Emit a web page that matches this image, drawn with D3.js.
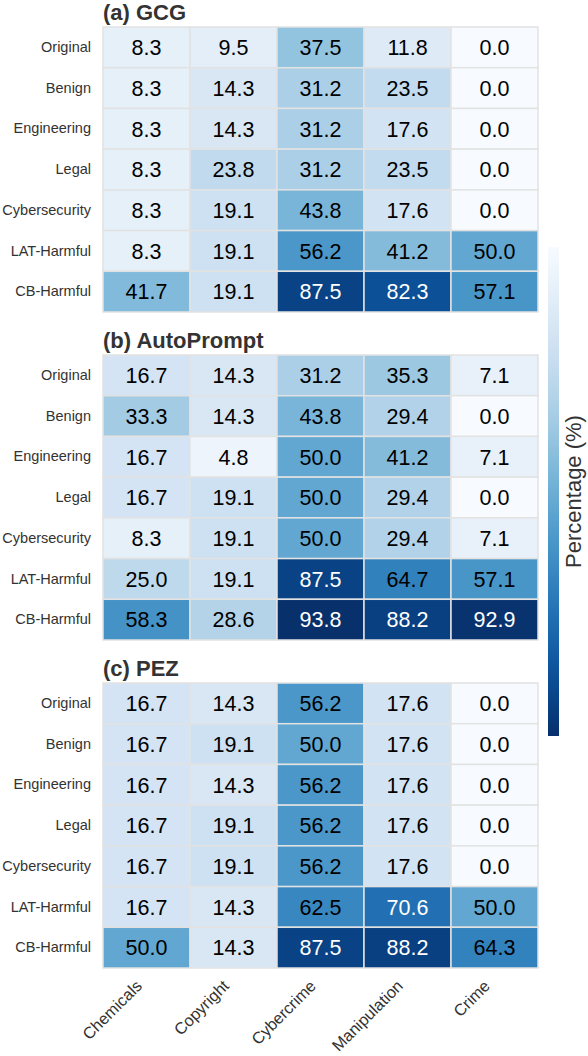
<!DOCTYPE html>
<html>
<head>
<meta charset="utf-8">
<script src="https://cdn.jsdelivr.net/npm/d3@7"></script>
<style>
  body { margin: 0; background: #fff; }
  text { font-family: "Liberation Sans", Arial, sans-serif; }
</style>
</head>
<body>
<div id="chart"></div>
<script>
var width = 588;
var height = 1056;

// data
var categories = ["Chemicals", "Copyright", "Cybercrime", "Manipulation", "Crime"];
var prompts = ["Original", "Benign", "Engineering", "Legal", "Cybersecurity", "LAT-Harmful", "CB-Harmful"];
var panelTitles = ["(a) GCG", "(b) AutoPrompt", "(c) PEZ"];

var gcg = [
  [8.3, 9.5, 37.5, 11.8, 0.0],
  [8.3, 14.3, 31.2, 23.5, 0.0],
  [8.3, 14.3, 31.2, 17.6, 0.0],
  [8.3, 23.8, 31.2, 23.5, 0.0],
  [8.3, 19.1, 43.8, 17.6, 0.0],
  [8.3, 19.1, 56.2, 41.2, 50.0],
  [41.7, 19.1, 87.5, 82.3, 57.1]
];
var autoprompt = [
  [16.7, 14.3, 31.2, 35.3, 7.1],
  [33.3, 14.3, 43.8, 29.4, 0.0],
  [16.7, 4.8, 50.0, 41.2, 7.1],
  [16.7, 19.1, 50.0, 29.4, 0.0],
  [8.3, 19.1, 50.0, 29.4, 7.1],
  [25.0, 19.1, 87.5, 64.7, 57.1],
  [58.3, 28.6, 93.8, 88.2, 92.9]
];
var pez = [
  [16.7, 14.3, 56.2, 17.6, 0.0],
  [16.7, 19.1, 50.0, 17.6, 0.0],
  [16.7, 14.3, 56.2, 17.6, 0.0],
  [16.7, 19.1, 56.2, 17.6, 0.0],
  [16.7, 19.1, 56.2, 17.6, 0.0],
  [16.7, 14.3, 62.5, 70.6, 50.0],
  [50.0, 14.3, 87.5, 88.2, 64.3]
];
var panels = [gcg, autoprompt, pez];

var svg = d3.select("#chart")
    .append("svg")
    .attr("width", width)
    .attr("height", height);

var vmax = d3.max(panels, p => d3.max(p, r => d3.max(r)));
var color = d3.scaleSequential(d3.interpolateBlues).domain([0, vmax]);

var left = 103, right = 538;
var panelTop = [27, 355, 683];
var panelH = 285;

var x = d3.scaleBand()
    .domain(categories)
    .range([left, right]);

panels.forEach(function(data, p) {
  var y = d3.scaleBand()
      .domain(prompts)
      .range([panelTop[p], panelTop[p] + panelH]);

  var g = svg.append("g");

  var cells = [];
  data.forEach(function(row, i) {
    row.forEach(function(v, j) {
      cells.push({prompt: prompts[i], cat: categories[j], value: v});
    });
  });

  g.selectAll("rect")
    .data(cells)
    .join("rect")
      .attr("x", d => x(d.cat))
      .attr("y", d => y(d.prompt))
      .attr("width", x.bandwidth())
      .attr("height", y.bandwidth())
      .attr("fill", d => color(d.value))
      .attr("stroke", "#e2e2e2")
      .attr("stroke-width", 1.5);

  g.selectAll("text.val")
    .data(cells)
    .join("text")
      .attr("class", "val")
      .attr("x", d => x(d.cat) + x.bandwidth() / 2)
      .attr("y", d => y(d.prompt) + y.bandwidth() / 2)
      .attr("dy", "0.36em")
      .attr("text-anchor", "middle")
      .attr("font-size", 21.5)
      .attr("fill", d => d.value >= 70 ? "#fff" : "#000")
      .text(d => d.value.toFixed(1));

  // row labels
  var yAxis = g.append("g")
      .attr("transform", `translate(${left},0)`)
      .call(d3.axisLeft(y).tickSize(0).tickPadding(12));
  yAxis.select(".domain").remove();
  yAxis.selectAll("text")
      .attr("font-size", 14.5)
      .attr("font-family", "Liberation Sans, Arial, sans-serif")
      .attr("fill", "#333");

  svg.append("text")
      .attr("x", left)
      .attr("y", panelTop[p] - 7.5)
      .attr("font-size", 22)
      .attr("font-weight", "bold")
      .attr("fill", "#333")
      .text(panelTitles[p]);
});

// x labels under the last panel
var bottom = panelTop[2] + panelH;
svg.append("g")
  .selectAll("text")
  .data(categories)
  .join("text")
    .attr("transform", d => `translate(${x(d) + x.bandwidth() / 2 - 3.5},${bottom + 19}) rotate(-45)`)
    .attr("text-anchor", "end")
    .attr("font-size", 16.3)
    .attr("fill", "#333")
    .text(d => d);

// colorbar
var cbX = 548, cbW = 11;
var cbScale = d3.scaleLinear().domain([0, vmax]).range([247, 736]);
var defs = svg.append("defs");
var grad = defs.append("linearGradient")
    .attr("id", "cb")
    .attr("x1", 0).attr("y1", 0).attr("x2", 0).attr("y2", 1);
grad.selectAll("stop")
  .data(d3.range(0, 1.0001, 0.05))
  .join("stop")
    .attr("offset", d => d)
    .attr("stop-color", d => color(d * vmax));
svg.append("rect")
    .attr("x", cbX)
    .attr("y", cbScale(0))
    .attr("width", cbW)
    .attr("height", cbScale(vmax) - cbScale(0))
    .attr("fill", "url(#cb)");

svg.append("text")
    .attr("transform", `translate(581,${(cbScale(0) + cbScale(vmax)) / 2}) rotate(-90)`)
    .attr("text-anchor", "middle")
    .attr("font-size", 22)
    .attr("fill", "#333")
    .text("Percentage (%)");
</script>
</body>
</html>
